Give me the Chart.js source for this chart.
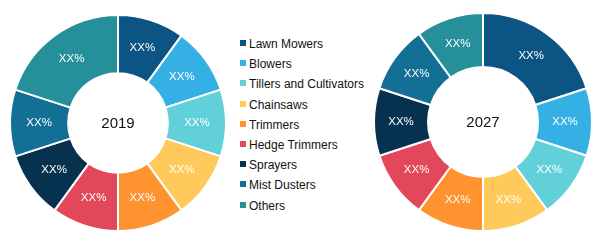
<!DOCTYPE html>
<html>
<head>
<meta charset="utf-8">
<script src="https://cdn.jsdelivr.net/npm/chart.js@4/dist/chart.umd.min.js"></script>
<style>
  body { margin: 0; background: #fff; width: 600px; height: 244px; overflow: hidden; position: relative; font-family: "Liberation Sans", Arial, sans-serif; }
  .box { position: absolute; }
  #legend { position: absolute; left: 240px; top: 35px; }
  #legend div { height: 20.2px; line-height: 18px; font-size: 12px; color: #111; white-space: nowrap; }
  #legend span { display: inline-block; width: 6px; height: 6px; margin-right: 3px; vertical-align: 2px; }
</style>
</head>
<body>
<div class="box" style="left:0;top:0;width:236px;height:246px"><canvas id="c2019"></canvas></div>
<div class="box" style="left:375px;top:0;width:216px;height:244px"><canvas id="c2027"></canvas></div>
<div id="legend"></div>
<script>
// segments, in legend order
const categories = ["Lawn Mowers", "Blowers", "Tillers and Cultivators", "Chainsaws", "Trimmers",
                    "Hedge Trimmers", "Sprayers", "Mist Dusters", "Others"];
const colors = ["#0b5483", "#34b0e4", "#62d0d8", "#ffc95c", "#fe9330", "#e3485a", "#06324f", "#136f95", "#26909a"];
const share2019 = [10, 10, 10, 10, 10, 10, 10, 10, 20];
const share2027 = [20, 10, 10, 10, 10, 10, 10, 10, 10];
const sliceLabel = "XX%";

// legend
const legend = document.getElementById('legend');
categories.forEach((name, i) => {
  const row = document.createElement('div');
  const sq = document.createElement('span');
  sq.style.background = colors[i];
  row.appendChild(sq);
  row.appendChild(document.createTextNode(name));
  legend.appendChild(row);
});

// draw XX% in every slice and the year in the hole
const textPlugin = {
  id: 'sliceText',
  afterDatasetsDraw(chart, args, opts) {
    const ctx = chart.ctx;
    ctx.save();
    ctx.textAlign = 'center';
    ctx.textBaseline = 'middle';
    ctx.fillStyle = '#fff';
    ctx.font = '11.5px "Liberation Sans", Arial, sans-serif';
    chart.getDatasetMeta(0).data.forEach((arc) => {
      const p = arc.tooltipPosition();
      ctx.fillText(sliceLabel, p.x, p.y);
    });
    const a = chart.chartArea;
    ctx.fillStyle = '#111';
    ctx.font = '15px "Liberation Sans", Arial, sans-serif';
    ctx.fillText(opts.year, (a.left + a.right) / 2, (a.top + a.bottom) / 2 + 1);
    ctx.restore();
  }
};

function getChart(id, values, year, radius) {
  return new Chart(document.getElementById(id), {
    type: 'doughnut',
    data: {
      labels: categories,
      datasets: [{
        data: values,
        backgroundColor: colors,
        borderColor: '#fff',
        borderWidth: 2
      }]
    },
    options: {
      responsive: true,
      maintainAspectRatio: false,
      animation: false,
      radius: radius,
      cutout: 54,
      layout: { padding: 0 },
      plugins: {
        legend: { display: false },
        tooltip: { enabled: false },
        sliceText: { year: year }
      }
    },
    plugins: [textPlugin]
  });
}

getChart('c2019', share2019, '2019', 108);
getChart('c2027', share2027, '2027', 109);
</script>
</body>
</html>
